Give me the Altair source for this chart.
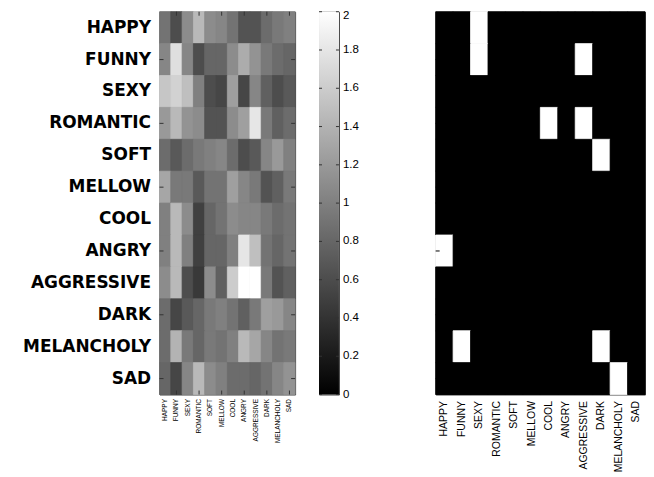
import altair as alt
import pandas as pd

moods = ["HAPPY", "FUNNY", "SEXY", "ROMANTIC", "SOFT", "MELLOW", "COOL",
         "ANGRY", "AGGRESSIVE", "DARK", "MELANCHOLY", "SAD"]

# Left matrix (rows = y labels, columns = x labels), values 0..2
happy      = [0.90, 0.60, 1.10, 1.45, 1.10, 1.05, 0.90, 0.65, 0.65, 0.85, 0.95, 1.00]
funny      = [1.05, 1.75, 1.05, 0.60, 0.80, 0.80, 1.10, 1.35, 1.15, 0.95, 0.85, 0.80]
sexy       = [1.55, 1.65, 1.50, 1.00, 0.60, 0.55, 1.25, 0.55, 1.05, 0.75, 0.60, 0.70]
romantic   = [1.20, 1.45, 1.15, 1.10, 0.65, 0.65, 1.10, 1.25, 1.80, 0.95, 0.75, 0.85]
soft       = [0.85, 0.70, 0.85, 0.95, 1.00, 1.05, 0.85, 0.60, 0.70, 1.05, 1.20, 1.00]
mellow     = [1.30, 0.95, 0.95, 0.70, 0.90, 0.90, 1.25, 1.05, 0.95, 0.65, 0.75, 0.95]
cool       = [1.00, 1.45, 1.10, 0.50, 0.80, 0.90, 1.10, 1.05, 1.05, 0.95, 0.85, 0.90]
angry      = [1.00, 1.45, 1.00, 0.50, 0.80, 0.80, 1.00, 1.80, 1.50, 0.90, 0.80, 0.90]
aggressive = [1.10, 1.45, 0.60, 0.45, 1.10, 0.75, 1.60, 2.00, 2.00, 0.95, 0.65, 0.75]
dark       = [0.85, 0.55, 0.70, 0.80, 0.95, 1.00, 0.90, 0.75, 0.95, 1.25, 1.20, 1.05]
melancholy = [0.85, 1.40, 0.95, 0.80, 0.95, 0.90, 1.00, 1.45, 1.30, 1.05, 0.90, 0.95]
sad        = [0.80, 0.55, 1.05, 1.45, 1.10, 1.00, 0.85, 0.85, 0.80, 0.90, 1.05, 1.15]
left_rows = [happy, funny, sexy, romantic, soft, mellow, cool, angry,
             aggressive, dark, melancholy, sad]

# Right binary matrix
b_happy      = [0, 0, 1, 0, 0, 0, 0, 0, 0, 0, 0, 0]
b_funny      = [0, 0, 1, 0, 0, 0, 0, 0, 1, 0, 0, 0]
b_sexy       = [0, 0, 0, 0, 0, 0, 0, 0, 0, 0, 0, 0]
b_romantic   = [0, 0, 0, 0, 0, 0, 1, 0, 1, 0, 0, 0]
b_soft       = [0, 0, 0, 0, 0, 0, 0, 0, 0, 1, 0, 0]
b_mellow     = [0, 0, 0, 0, 0, 0, 0, 0, 0, 0, 0, 0]
b_cool       = [0, 0, 0, 0, 0, 0, 0, 0, 0, 0, 0, 0]
b_angry      = [1, 0, 0, 0, 0, 0, 0, 0, 0, 0, 0, 0]
b_aggressive = [0, 0, 0, 0, 0, 0, 0, 0, 0, 0, 0, 0]
b_dark       = [0, 0, 0, 0, 0, 0, 0, 0, 0, 0, 0, 0]
b_melancholy = [0, 1, 0, 0, 0, 0, 0, 0, 0, 1, 0, 0]
b_sad        = [0, 0, 0, 0, 0, 0, 0, 0, 0, 0, 1, 0]
right_rows = [b_happy, b_funny, b_sexy, b_romantic, b_soft, b_mellow, b_cool,
              b_angry, b_aggressive, b_dark, b_melancholy, b_sad]

colorbar_ticks = [0, 0.2, 0.4, 0.6, 0.8, 1, 1.2, 1.4, 1.6, 1.8, 2]
colorbar_range = [0, 2]
tick_rows = ["FUNNY", "ROMANTIC", "MELLOW", "ANGRY", "DARK", "SAD"]
tick_cols = ["FUNNY", "ROMANTIC", "MELLOW", "ANGRY", "DARK", "SAD"]

left_df = pd.DataFrame([
    {"row": moods[i], "col": moods[j], "v": left_rows[i][j]}
    for i in range(12) for j in range(12)
])
right_df = pd.DataFrame([
    {"row": moods[i], "col": moods[j], "b": right_rows[i][j]}
    for i in range(12) for j in range(12)
])
row_ticks_df = pd.DataFrame({"row": tick_rows})
col_ticks_df = pd.DataFrame({"col": tick_cols})
cbar_df = pd.DataFrame({"lo": [colorbar_range[0]], "hi": [colorbar_range[1]]})
cbar_ticks_df = pd.DataFrame({"t": colorbar_ticks})

LW, LH = 136, 384
RW, RH = 210, 384
CW = 20
TICK = "#333333"

gray_scale = alt.Scale(domain=[0, 2], range=["black", "white"], interpolate="rgb")
bin_scale = alt.Scale(domain=[0, 1], range=["black", "white"])

left_rect = alt.Chart(left_df).mark_rect(strokeWidth=0.8).encode(
    x=alt.X("col:N", sort=moods, axis=alt.Axis(
        title=None, labelAngle=-90, labelFontSize=6.5, labelFont="Liberation Sans",
        ticks=False, domain=False, labelPadding=4, labelColor="black")),
    y=alt.Y("row:N", sort=moods, axis=alt.Axis(
        title=None, labelFont="DejaVu Sans", labelFontSize=17, labelFontWeight="bold",
        ticks=False, domain=False, labelPadding=9, labelColor="black")),
    color=alt.Color("v:Q", scale=gray_scale, legend=None),
    stroke=alt.Stroke("v:Q", scale=gray_scale, legend=None),
)

ly_ticks_l = alt.Chart(row_ticks_df).mark_rule(color=TICK, strokeWidth=1).encode(
    y=alt.Y("row:N", sort=moods), x=alt.value(0), x2=alt.value(4))
ly_ticks_r = alt.Chart(row_ticks_df).mark_rule(color=TICK, strokeWidth=1).encode(
    y=alt.Y("row:N", sort=moods), x=alt.value(LW - 4), x2=alt.value(LW))
lx_ticks_t = alt.Chart(col_ticks_df).mark_rule(color=TICK, strokeWidth=1).encode(
    x=alt.X("col:N", sort=moods), y=alt.value(0), y2=alt.value(4))
lx_ticks_b = alt.Chart(col_ticks_df).mark_rule(color=TICK, strokeWidth=1).encode(
    x=alt.X("col:N", sort=moods), y=alt.value(LH - 4), y2=alt.value(LH))

left = alt.layer(left_rect, ly_ticks_l, ly_ticks_r, lx_ticks_t, lx_ticks_b).properties(
    width=LW, height=LH, view=alt.ViewBackground(fill="#777777", stroke="#444", strokeWidth=1))

grad = alt.Gradient(
    gradient="linear",
    stops=[alt.GradientStop(color="black", offset=0),
           alt.GradientStop(color="white", offset=1)],
    x1=0, x2=0, y1=1, y2=0)

cbar_scale = alt.Scale(domain=colorbar_range, nice=False, zero=False)
cbar_rect = alt.Chart(cbar_df).mark_rect(color=grad).encode(
    x=alt.value(0), x2=alt.value(CW),
    y=alt.Y("lo:Q", scale=cbar_scale, axis=None),
    y2="hi:Q",
)
cbar_ticks_l = alt.Chart(cbar_ticks_df).mark_rule(color=TICK, strokeWidth=1).encode(
    y=alt.Y("t:Q", scale=cbar_scale, axis=None), x=alt.value(0), x2=alt.value(3))
cbar_ticks_r = alt.Chart(cbar_ticks_df).mark_rule(color=TICK, strokeWidth=1).encode(
    y=alt.Y("t:Q", scale=cbar_scale, axis=None), x=alt.value(CW - 3), x2=alt.value(CW))
cbar_labels = alt.Chart(cbar_ticks_df).mark_text(
    align="left", baseline="middle", fontSize=11.5, font="Liberation Sans", color="black",
    dy=alt.expr("datum.t == 2 ? 4 : 0")
).encode(
    y=alt.Y("t:Q", scale=cbar_scale, axis=None),
    x=alt.value(CW + 4),
    text=alt.Text("t:Q", format="~g"),
)
cbar = alt.layer(cbar_rect, cbar_ticks_l, cbar_ticks_r, cbar_labels).properties(
    width=CW, height=LH)

right_rect = alt.Chart(right_df).mark_rect(strokeWidth=0.8).encode(
    x=alt.X("col:N", sort=moods, axis=alt.Axis(
        title=None, labelAngle=-90, labelFontSize=10.5, labelFont="Liberation Sans",
        ticks=False, domain=False, labelPadding=6, labelColor="black")),
    y=alt.Y("row:N", sort=moods, axis=None),
    color=alt.Color("b:N", scale=bin_scale, legend=None),
    stroke=alt.Stroke("b:N", scale=bin_scale, legend=None),
)
ry_ticks = alt.Chart(row_ticks_df).mark_rule(color="black", strokeWidth=1).encode(
    y=alt.Y("row:N", sort=moods), x=alt.value(0), x2=alt.value(4))
right = alt.layer(right_rect, ry_ticks).properties(
    width=RW, height=RH, view=alt.ViewBackground(fill="black", stroke="#444", strokeWidth=1))

chart = alt.hconcat(
    alt.hconcat(left, cbar, spacing=22),
    right, spacing=75
).resolve_scale(color="independent", stroke="independent").properties(
    padding={"left": 14, "top": 0, "right": 0, "bottom": 0}
).configure_view(stroke="#444", strokeWidth=1)

chart.save("out.html", embed_options={"renderer": "svg", "actions": False})
